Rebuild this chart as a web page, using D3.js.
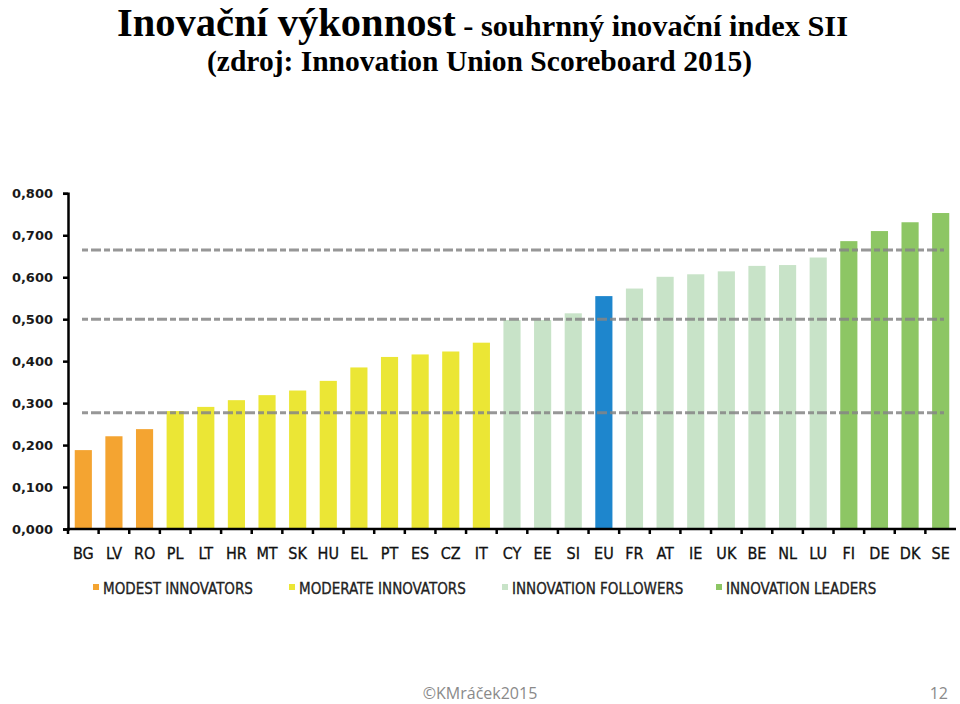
<!DOCTYPE html>
<html>
<head>
<meta charset="utf-8">
<script src="https://cdn.jsdelivr.net/npm/d3@7"></script>
<style>
  body { margin: 0; background: #fff; }
  svg { display: block; }
</style>
</head>
<body>
<svg id="chart" width="960" height="704"></svg>
<script>
// ---- data ----
const countries = ["BG","LV","RO","PL","LT","HR","MT","SK","HU","EL","PT","ES","CZ","IT","CY","EE","SI","EU","FR","AT","IE","UK","BE","NL","LU","FI","DE","DK","SE"];
const sii = [0.188,0.221,0.238,0.281,0.291,0.307,0.319,0.330,0.353,0.385,0.410,0.416,0.423,0.444,0.498,0.498,0.514,0.555,0.573,0.601,0.607,0.614,0.627,0.629,0.647,0.686,0.710,0.731,0.753];
const groups = ["modest","modest","modest","moderate","moderate","moderate","moderate","moderate","moderate","moderate","moderate","moderate","moderate","moderate","follower","follower","follower","eu","follower","follower","follower","follower","follower","follower","follower","leader","leader","leader","leader"];
const groupKeys = ["modest","moderate","follower","leader"];
const groupLabels = ["MODEST INNOVATORS","MODERATE INNOVATORS","INNOVATION FOLLOWERS","INNOVATION LEADERS"];
const thresholds = [0.277, 0.500, 0.665];
const yTicks = [0,0.1,0.2,0.3,0.4,0.5,0.6,0.7,0.8];

const colors = { modest: "#f4a431", moderate: "#ebe635", follower: "#c8e3c8", leader: "#8dc664", eu: "#1e86cd" };
const narrow = "'Liberation Sans Narrow','DejaVu Sans Condensed','Arial Narrow',sans-serif";
const serif = "'Liberation Serif','Times New Roman',serif";

const svg = d3.select("#chart");

// ---- title ----
const t1 = svg.append("text").attr("x", 117).attr("y", 36)
  .attr("font-family", serif).attr("font-weight", "bold").attr("fill", "#000")
  .attr("textLength", 731).attr("lengthAdjust", "spacingAndGlyphs");
t1.append("tspan").attr("font-size", 40).text("Inovační výkonnost");
t1.append("tspan").attr("font-size", 30).text(" - souhrnný inovační index SII");
svg.append("text").attr("x", 207).attr("y", 71)
  .attr("font-family", serif).attr("font-weight", "bold")
  .attr("font-size", 30).attr("fill", "#000")
  .attr("textLength", 545).attr("lengthAdjust", "spacingAndGlyphs")
  .text("(zdroj: Innovation Union Scoreboard 2015)");

// ---- scales ----
const x0 = 68, x1 = 956, yTop = 193.3, yBot = 529;
const x = d3.scaleBand().domain(countries).range([x0, x1]).paddingInner(0.44).paddingOuter(0.22);
const y = d3.scaleLinear().domain([0, 0.8]).range([yBot, yTop]);

const data = countries.map((c, i) => ({ c, v: sii[i], g: groups[i] }));

// ---- bars ----
svg.append("g").selectAll("rect").data(data).join("rect")
  .attr("x", d => x(d.c)).attr("width", x.bandwidth())
  .attr("y", d => y(d.v)).attr("height", d => y(0) - y(d.v))
  .attr("fill", d => colors[d.g]);

// ---- threshold dashed lines ----
svg.append("g").selectAll("line").data(thresholds).join("line")
  .attr("x1", 82).attr("x2", 944)
  .attr("y1", d => y(d)).attr("y2", d => y(d))
  .attr("stroke", "#858585").attr("stroke-width", 3)
  .attr("stroke-opacity", 0.85)
  .attr("stroke-dasharray", "6,3,10,3");

// ---- y axis ----
const yAxis = svg.append("g").attr("transform", `translate(${x0},0)`)
  .call(d3.axisLeft(y).tickValues(yTicks).tickSize(5).tickPadding(10)
    .tickFormat(d => d3.format(".3f")(d).replace(".", ",")));
yAxis.select(".domain").attr("stroke", "#000").attr("stroke-width", 2.5);
yAxis.selectAll(".tick line").attr("stroke", "#000").attr("stroke-width", 2.5);
yAxis.selectAll(".tick text").attr("font-family", "'DejaVu Sans',Verdana,sans-serif")
  .attr("font-weight", "bold").attr("font-size", 13).attr("fill", "#1a1a1a");

// ---- x axis (ticks at band boundaries) ----
const xAxisG = svg.append("g").attr("transform", `translate(0,${yBot})`);
xAxisG.append("line").attr("x1", x0 - 1).attr("x2", x1).attr("stroke", "#000").attr("stroke-width", 2.5);
const tickXs = countries.map((c, i) => x0 + i * (x1 - x0) / countries.length);
xAxisG.selectAll("line.tk").data(tickXs).join("line").attr("class", "tk")
  .attr("x1", d => d).attr("x2", d => d).attr("y1", 0).attr("y2", 5)
  .attr("stroke", "#000").attr("stroke-width", 2.5);
xAxisG.selectAll("text").data(countries).join("text")
  .attr("x", d => x(d) + x.bandwidth() / 2).attr("y", 30)
  .attr("text-anchor", "middle")
  .attr("font-family", narrow).attr("font-size", 16).attr("fill", "#111")
  .attr("stroke", "#111").attr("stroke-width", 0.3)
  .text(d => d);

// ---- legend ----
const legendX = [93, 289, 502, 716];
const lg = svg.append("g").selectAll("g").data(groupKeys).join("g")
  .attr("transform", (d, i) => `translate(${legendX[i]},589)`);
lg.append("rect").attr("x", 0).attr("y", -5).attr("width", 6).attr("height", 6)
  .attr("fill", d => colors[d]);
lg.append("text").attr("x", 10).attr("y", 0).attr("dy", "0.35em")
  .attr("font-family", narrow).attr("font-size", 15).attr("fill", "#222")
  .attr("stroke", "#222").attr("stroke-width", 0.3)
  .text((d, i) => groupLabels[i]);

// ---- footer ----
svg.append("text").attr("x", 480).attr("y", 699).attr("text-anchor", "middle")
  .attr("font-family", "'Open Sans',Lato,sans-serif").attr("font-size", 16).attr("fill", "#8a8a8a")
  .text("©KMráček2015");
svg.append("text").attr("x", 948).attr("y", 699).attr("text-anchor", "end")
  .attr("font-family", "'Open Sans',Lato,sans-serif").attr("font-size", 16).attr("fill", "#8a8a8a")
  .text("12");
</script>
</body>
</html>
